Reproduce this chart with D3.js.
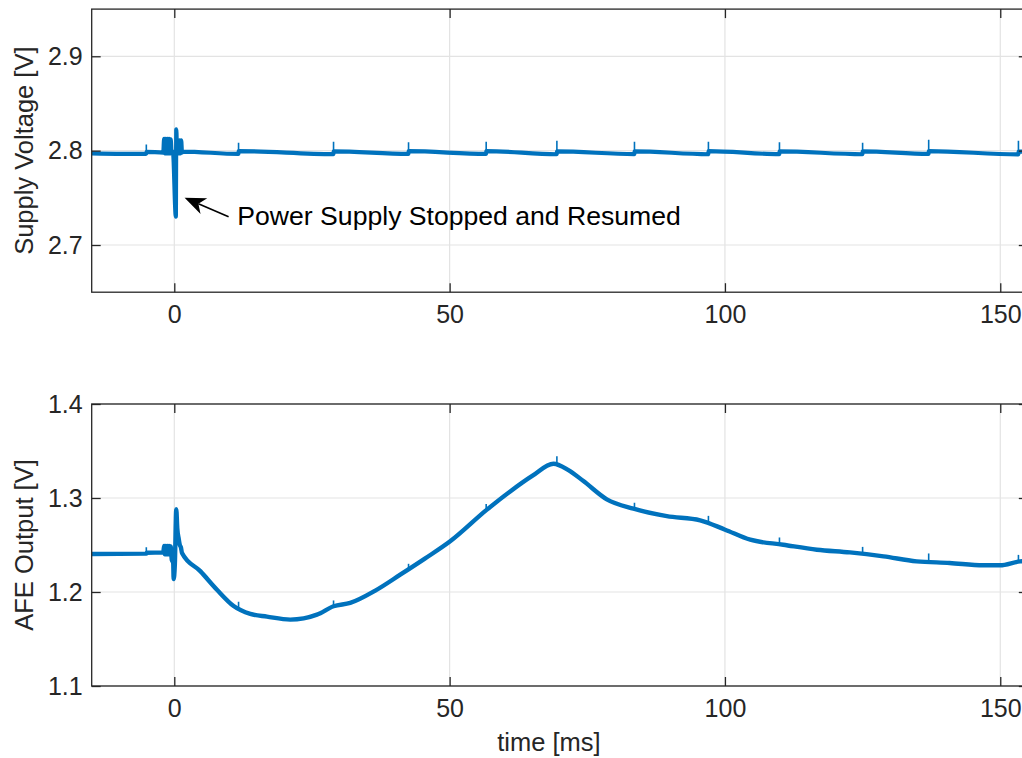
<!DOCTYPE html>
<html>
<head>
<meta charset="utf-8">
<script src="https://cdn.jsdelivr.net/npm/d3@7/dist/d3.min.js"></script>
<style>
  html, body { margin: 0; padding: 0; background: #fff; }
  svg { display: block; }
  text { font-family: "Liberation Sans", Arial, Helvetica, sans-serif; fill: #262626; }
</style>
</head>
<body>
<svg id="chart" width="1022" height="758"></svg>
<script>
// ---- Supply voltage trace (time in ms, volts) ----
const supplyT = [-15, -5.12, -5.04, -2.0,
  -1.85, -1.7, -1.55, -1.4, -1.25, -1.1, -0.95, -0.8, -0.65,
  -0.5, -0.25, 0.28, 0.36, 0.5,
  0.65, 0.8, 0.95, 1.1, 1.25, 1.4, 1.6,
  11.63, 11.71, 28.88, 28.96, 42.5, 42.58, 56.6, 56.68, 69.44, 69.52,
  83.53, 83.61, 96.96, 97.04, 109.86, 109.94, 124.96, 125.04,
  136.96, 137.04, 153.26, 153.34, 155];
const supplyV = [2.7972, 2.7965, 2.7988, 2.7980,
  2.8125, 2.7970, 2.8125, 2.7970, 2.8125, 2.7970, 2.8125, 2.7970, 2.8120,
  2.7985, 2.7990, 2.7300, 2.8225, 2.7990,
  2.8110, 2.7970, 2.8110, 2.7970, 2.8110, 2.7980, 2.7990,
  2.7965, 2.7995, 2.7963, 2.7992, 2.7965, 2.7995, 2.7965, 2.7995, 2.7962, 2.7992,
  2.7963, 2.7993, 2.7962, 2.7995, 2.7963, 2.7993, 2.7962, 2.7992,
  2.7965, 2.7995, 2.7960, 2.7990, 2.7988];

// ---- AFE output trace (time in ms, volts) ----
const afeT = [-15, -5.1, -5.0, -2.0,
  -1.85, -1.7, -1.55, -1.4, -1.25, -1.1, -0.95, -0.8, -0.65,
  -0.45, -0.2, -0.12, 0.1, 0.36, 0.54, 0.82, 1.0, 1.2, 1.4,
  4.72, 7.75, 10.77, 13.8, 16.83, 21.06, 25.91, 28.92, 31.95, 36.5, 41.03,
  45.5, 50.1, 56.77, 61.0, 65.0, 68.86, 71.5, 74.3, 78.55, 83.4, 89.44, 95.5, 100.04,
  104.6, 110.6, 116.7, 122.7, 128.8, 134.8, 140.8, 146.9, 149.96, 153.6, 155];
const afeV = [1.2404, 1.2408, 1.2418, 1.2420,
  1.2490, 1.2400, 1.2490, 1.2400, 1.2490, 1.2400, 1.2490, 1.2400, 1.2485,
  1.2340, 1.2310, 1.2138, 1.2290, 1.2880, 1.2680, 1.2560, 1.2500, 1.2475, 1.2415,
  1.2222, 1.2024, 1.1851, 1.1767, 1.1738, 1.1706, 1.1759, 1.1848, 1.1884, 1.2015, 1.2184,
  1.2355, 1.2539, 1.2876, 1.3070, 1.3235, 1.3365, 1.3300, 1.3180, 1.2986, 1.2886, 1.2807, 1.2763, 1.2663,
  1.2556, 1.2503, 1.2450, 1.2421, 1.2379, 1.2326, 1.2309, 1.2284, 1.2284, 1.2326, 1.2330];

// ---- Periodic switching spikes (time, low / high value in each trace) ----
const spikeT      = [-5.08, 11.67, 28.92, 42.54, 56.64, 69.48, 83.57, 97.0, 109.9, 125.0, 137.0, 153.3];
const supplySpikeLo = [2.7970, 2.7970, 2.7968, 2.7970, 2.7970, 2.7968, 2.7968, 2.7968, 2.7968, 2.7968, 2.7970, 2.7966];
const supplySpikeHi = [2.8065, 2.8085, 2.8095, 2.8090, 2.8095, 2.8105, 2.8095, 2.8095, 2.8090, 2.8085, 2.8115, 2.8105];
const afeSpikeLo  = [1.2415, 1.1830, 1.1848, 1.2245, 1.2870, 1.3355, 1.2885, 1.2745, 1.2510, 1.2405, 1.2318, 1.2322];
const afeSpikeHi  = [1.2475, 1.1895, 1.1910, 1.2300, 1.2935, 1.3445, 1.2950, 1.2810, 1.2580, 1.2480, 1.2410, 1.2395];

// ---- Ticks ----
const xTicks = [0, 50, 100, 150];
const supplyTicks = [2.7, 2.8, 2.9];
const afeTicks = [1.1, 1.2, 1.3, 1.4];

const xDomain = [-15, 155];
const supplyDomain = [2.65, 2.95];
const afeDomain = [1.1, 1.4];

// ---- Layout ----
const W = 1022, H = 758;
const left = 91.7, right = 1027.8;
const panels = [
  { top: 9.1, bottom: 292.2, domain: supplyDomain, ticks: supplyTicks, fmt: d3.format(".1f"),
    t: supplyT, v: supplyV, lo: supplySpikeLo, hi: supplySpikeHi, label: "Supply Voltage [V]", sw: 4.2 },
  { top: 404, bottom: 686, domain: afeDomain, ticks: afeTicks, fmt: d3.format(".1f"),
    t: afeT, v: afeV, lo: afeSpikeLo, hi: afeSpikeHi, label: "AFE Output [V]", sw: 4.4 }
];

const svg = d3.select("#chart");
svg.append("rect").attr("width", W).attr("height", H).attr("fill", "#fff");

const x = d3.scaleLinear().domain(xDomain).range([left, right]);
const axisColor = "#262626";
const gridColor = "#e3e3e3";
const lineColor = "#0072BD";
const tickLen = 9;
const tickFont = 25;

panels.forEach((p, i) => {
  const y = d3.scaleLinear().domain(p.domain).range([p.bottom, p.top]);
  const g = svg.append("g");
  const h = p.bottom - p.top, w = right - left;

  // grid
  const grid = g.append("g");
  grid.selectAll("line.gx").data(xTicks).join("line")
    .attr("x1", d => x(d)).attr("x2", d => x(d))
    .attr("y1", p.top).attr("y2", p.bottom)
    .attr("stroke", gridColor).attr("stroke-width", 1.2);
  grid.selectAll("line.gy").data(p.ticks).join("line")
    .attr("x1", left).attr("x2", right)
    .attr("y1", d => y(d)).attr("y2", d => y(d))
    .attr("stroke", gridColor).attr("stroke-width", 1.2);

  // clip
  const clipId = "clip" + i;
  svg.append("clipPath").attr("id", clipId)
    .append("rect").attr("x", left).attr("y", p.top).attr("width", w).attr("height", h);

  const plot = g.append("g").attr("clip-path", `url(#${clipId})`);
  const pts = p.t.map((t, k) => [t, p.v[k]]);
  plot.append("path")
    .attr("d", d3.line().curve(d3.curveMonotoneX).x(d => x(d[0])).y(d => y(d[1]))(pts))
    .attr("fill", "none").attr("stroke", lineColor)
    .attr("stroke-width", p.sw).attr("stroke-linejoin", "round");
  plot.selectAll("line.spike").data(spikeT).join("line")
    .attr("x1", d => x(d)).attr("x2", d => x(d))
    .attr("y1", (d, k) => y(p.lo[k])).attr("y2", (d, k) => y(p.hi[k]))
    .attr("stroke", lineColor).attr("stroke-width", 1.6);

  // axes (ticks pointing inward, box on all sides)
  const ax = g.append("g").attr("class", "axes");
  const bottomAxis = d3.axisBottom(x).tickValues(xTicks).tickFormat(d3.format("d"))
    .tickSizeInner(-tickLen).tickSizeOuter(0).tickPadding(13);
  const topAxis = d3.axisTop(x).tickValues(xTicks).tickFormat("")
    .tickSizeInner(-tickLen).tickSizeOuter(0);
  const leftAxis = d3.axisLeft(y).tickValues(p.ticks).tickFormat(p.fmt)
    .tickSizeInner(-tickLen).tickSizeOuter(0).tickPadding(9);
  const rightAxis = d3.axisRight(y).tickValues(p.ticks).tickFormat("")
    .tickSizeInner(-tickLen).tickSizeOuter(0);

  ax.append("g").attr("transform", `translate(0,${p.bottom})`).call(bottomAxis);
  ax.append("g").attr("transform", `translate(0,${p.top})`).call(topAxis);
  ax.append("g").attr("transform", `translate(${left},0)`).call(leftAxis);
  ax.append("g").attr("transform", `translate(${right},0)`).call(rightAxis);

  ax.selectAll(".domain").remove();
  ax.selectAll(".tick line").attr("stroke", axisColor).attr("stroke-width", 1.3);
  ax.selectAll(".tick text").attr("fill", axisColor)
    .style("font-size", tickFont + "px").style("font-family", "'Liberation Sans', Arial, sans-serif");

  ax.append("rect").attr("x", left).attr("y", p.top).attr("width", w).attr("height", h)
    .attr("fill", "none").attr("stroke", axisColor).attr("stroke-width", 1.3);

  // y label
  const cy = (p.top + p.bottom) / 2;
  svg.append("text")
    .attr("transform", `translate(24,${cy}) rotate(-90)`)
    .attr("text-anchor", "middle").attr("dominant-baseline", "central")
    .style("font-size", "25.5px")
    .text(p.label);

  p.y = y;
});

// x label under the lower panel
svg.append("text").attr("x", 549).attr("y", 751)
  .attr("text-anchor", "middle").style("font-size", "25.5px").text("time [ms]");

// ---- Annotation on the supply trace ----
const arrowTail = [9.86, 2.7300];
const arrowTip  = [1.87, 2.7500];
const noteAt    = [11.45, 2.7215];
const yS = panels[0].y;
const tx = x(arrowTail[0]), ty = yS(arrowTail[1]);
const hx = x(arrowTip[0]),  hy = yS(arrowTip[1]);
const dx = hx - tx, dy = hy - ty, len = Math.hypot(dx, dy);
const ux = dx / len, uy = dy / len, nx = -uy, ny = ux;
const headL = 21, headW = 8.5, notch = 15;
svg.append("line").attr("x1", tx).attr("y1", ty)
  .attr("x2", hx - ux * notch).attr("y2", hy - uy * notch)
  .attr("stroke", "#000").attr("stroke-width", 1.6);
svg.append("path")
  .attr("d", d3.line()([
    [hx, hy],
    [hx - ux * headL + nx * headW, hy - uy * headL + ny * headW],
    [hx - ux * notch, hy - uy * notch],
    [hx - ux * headL - nx * headW, hy - uy * headL - ny * headW]
  ]) + "Z")
  .attr("fill", "#000");
svg.append("text").attr("x", x(noteAt[0])).attr("y", yS(noteAt[1]))
  .style("font-size", "26.6px").style("fill", "#000")
  .text("Power Supply Stopped and Resumed");
</script>
</body>
</html>
